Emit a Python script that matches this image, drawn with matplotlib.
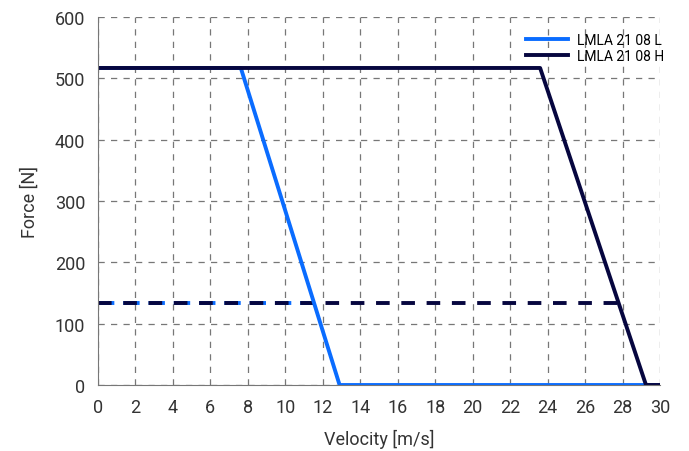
import matplotlib
matplotlib.use("Agg")
import matplotlib.pyplot as plt

plt.rcParams['font.family'] = ['Roboto', 'DejaVu Sans']

vel_L = [0, 7.63, 12.9, 30]
force_L = [517, 517, 0, 0]
vel_H = [0, 23.6, 29.25, 30]
force_H = [517, 517, 0, 0]
cont_L_vel = [0, 11.6]
cont_H_vel = [0, 27.9]
cont_force = [133, 133]

labels = ["LMLA 21 08 L", "LMLA 21 08 H"]
c_L = "#0a6cff"
c_H = "#06063f"

fig = plt.figure(figsize=(6.89, 4.52), dpi=100)
ax = fig.add_axes([0.142, 0.146, 0.816, 0.814])

ax.plot(cont_L_vel, cont_force, color=c_L, lw=2.8, linestyle=(0, (4.2, 2.3)))
ax.plot(cont_H_vel, cont_force, color=c_H, lw=2.8, linestyle=(0, (3.5, 3.0)))
ax.plot(vel_L, force_L, color=c_L, lw=2.8, label=labels[0])
ax.plot(vel_H, force_H, color=c_H, lw=2.8, label=labels[1])

ax.set_xlim(0, 30)
ax.set_ylim(0, 600)
ax.set_xticks(range(0, 31, 2))
ax.set_yticks(range(0, 601, 100))
ax.grid(True, color="#777777", linestyle=(0, (5, 5)), lw=0.9)
for s in ["top", "right"]:
    ax.spines[s].set_visible(False)
for s in ["left", "bottom"]:
    ax.spines[s].set_color("#777777")
ax.tick_params(length=0, labelsize=13, colors="#333333")
ax.tick_params(axis="x", pad=9)
ax.tick_params(axis="y", pad=9)
ax.set_xlabel("Velocity [m/s]", fontsize=13, color="#333333", labelpad=10)
ax.set_ylabel("Force [N]", fontsize=13, color="#333333", labelpad=12)
ax.legend(loc="upper right", frameon=False, fontsize=10, handlelength=3.0,
          bbox_to_anchor=(1.03, 0.99), labelspacing=0.15, handletextpad=0.7)

fig.savefig("out.png", dpi=100)
